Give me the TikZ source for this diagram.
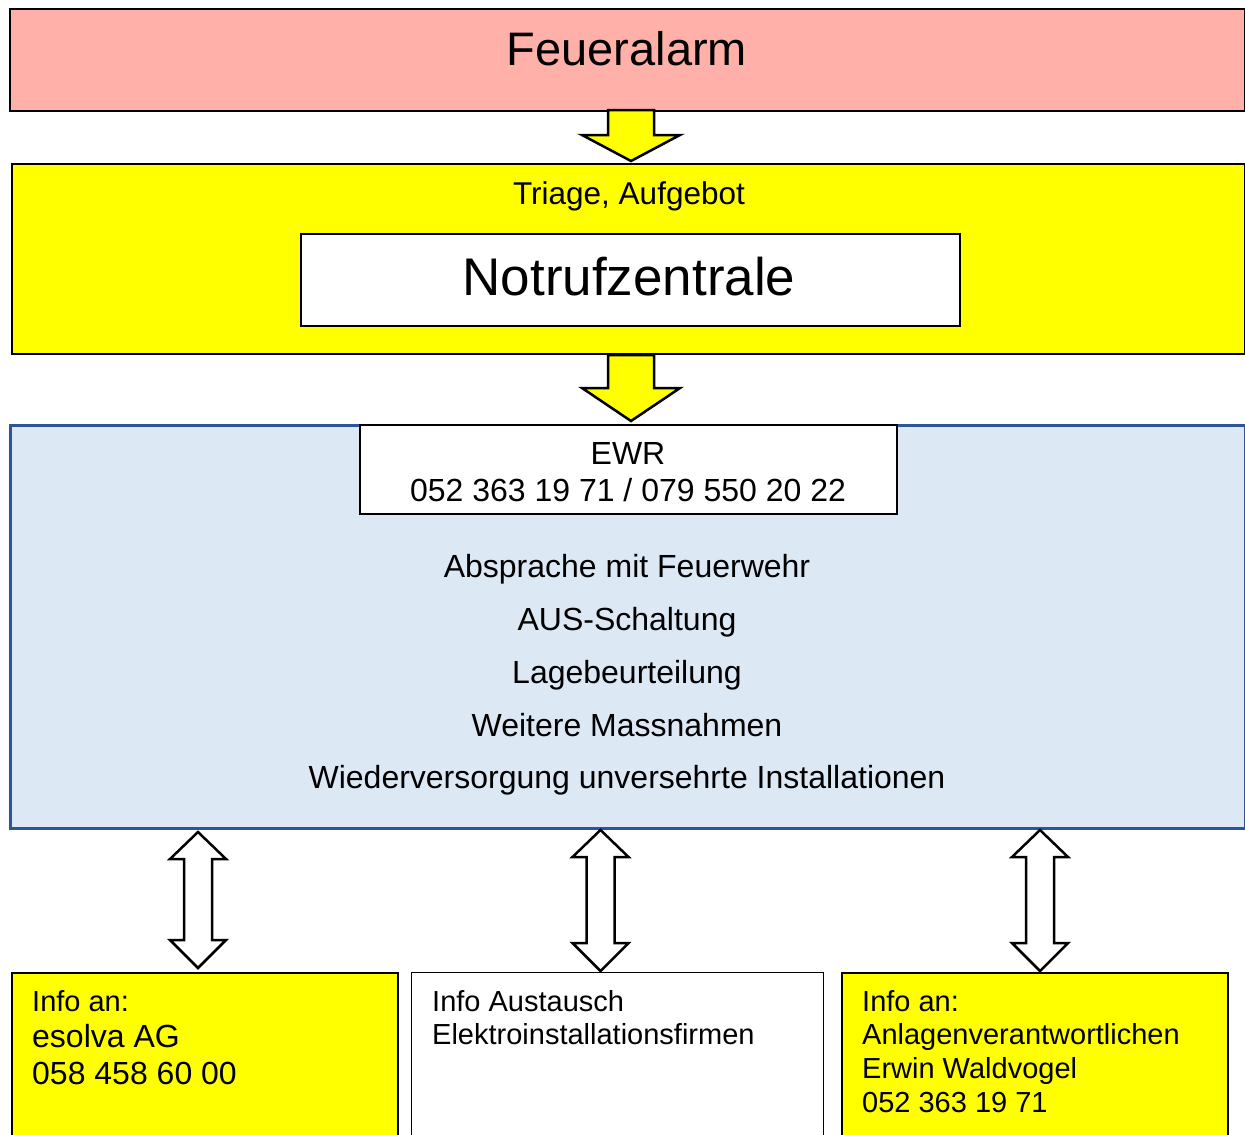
\documentclass[tikz,border=0pt]{standalone}
\usepackage{fontspec}
\setmainfont{Liberation Sans}
\definecolor{alarmpink}{RGB}{255,176,168}
\definecolor{ewrblue}{RGB}{221,232,245}
\definecolor{ewrborder}{RGB}{47,85,151}
\definecolor{yel}{RGB}{255,255,0}
\newcommand{\fs}[1]{\fontsize{#1}{#1}\selectfont}
\begin{document}
\begin{tikzpicture}[x=1pt,y=-1pt,
  box/.style={draw=black,line width=2pt,rectangle,inner sep=0pt,anchor=north west},
  lbl/.style={anchor=base,inner sep=0pt,text=black},
  lbll/.style={anchor=base west,inner sep=0pt,text=black},
  blockarrow/.style={draw=black,line width=2.5pt,line join=miter}]
\useasboundingbox (0,0) rectangle (1245,1135);
% boxes
\node[box,fill=alarmpink,minimum width=1235pt,minimum height=102pt] (alarm) at (9,8) {};
\node[box,fill=yel,minimum width=1233pt,minimum height=190pt] (triage) at (11,163) {};
\node[box,fill=white,minimum width=659pt,minimum height=92pt] (notruf) at (300,233) {};
\node[box,draw=ewrborder,line width=2.5pt,fill=ewrblue,minimum width=1235pt,minimum height=403pt] (ewr) at (9,424) {};
\node[box,line width=1.5pt,fill=white,minimum width=537pt,minimum height=89pt] (ewrhead) at (359,424) {};
\node[box,line width=1.5pt,fill=yel,minimum width=386pt,minimum height=180pt] (esolva) at (11,972) {};
\node[box,line width=1.2pt,fill=white,minimum width=412pt,minimum height=180pt] (firmen) at (411,972) {};
\node[box,line width=1.5pt,fill=yel,minimum width=386pt,minimum height=180pt] (anlage) at (841,972) {};
% texts
\node[lbl] (t1) at (627,65) {\fs{47}Feueralarm};
\node[lbl] (t2) at (629,204) {\fs{31.5}Triage, Aufgebot};
\node[lbl] (t3) at (629,295) {\fs{53}Notrufzentrale};
\node[lbl] (t4) at (628,464) {\fs{32}EWR};
\node[lbl] (t5) at (628,501) {\fs{32}052 363 19 71 / 079 550 20 22};
\node[lbl] (m1) at (627,577) {\fs{32}Absprache mit Feuerwehr};
\node[lbl] (m2) at (627,630) {\fs{32}AUS-Schaltung};
\node[lbl] (m3) at (627,683) {\fs{32}Lagebeurteilung};
\node[lbl] (m4) at (627,736) {\fs{32}Weitere Massnahmen};
\node[lbl] (m5) at (627,788) {\fs{32}Wiederversorgung unversehrte Installationen};
\node[lbll] (a1) at (32,1011) {\fs{29}Info an:};
\node[lbll] (a2) at (32,1047) {\fs{32}esolva AG};
\node[lbll] (a3) at (32,1084) {\fs{32}058 458 60 00};
\node[lbll] (b1) at (432,1011) {\fs{29}Info Austausch};
\node[lbll] (b2) at (432,1044) {\fs{29}Elektroinstallationsfirmen};
\node[lbll] (c1) at (862,1011) {\fs{29}Info an:};
\node[lbll] (c2) at (862,1044) {\fs{29}Anlagenverantwortlichen};
\node[lbll] (c3) at (862,1078) {\fs{29}Erwin Waldvogel};
\node[lbll] (c4) at (862,1112) {\fs{29}052 363 19 71};
% single block arrows
\draw[blockarrow,fill=yel] (608,110) -- (654,110) -- (654,135) -- (680,135) -- (631,161) -- (582,135) -- (608,135) -- cycle;
\draw[blockarrow,fill=yel] (608,355) -- (654,355) -- (654,388) -- (680,388) -- (631,421) -- (582,388) -- (608,388) -- cycle;
% double block arrows
\foreach \cx/\top/\bot in {198/832/968, 600.5/830/971, 1040/830/971}{
  \draw[blockarrow,fill=white]
    (\cx,\top) -- (\cx+28,\top+27) -- (\cx+14,\top+27) -- (\cx+14,\bot-28) -- (\cx+28,\bot-28)
    -- (\cx,\bot) -- (\cx-28,\bot-28) -- (\cx-14,\bot-28) -- (\cx-14,\top+27) -- (\cx-28,\top+27) -- cycle;
}
\end{tikzpicture}
\end{document}
